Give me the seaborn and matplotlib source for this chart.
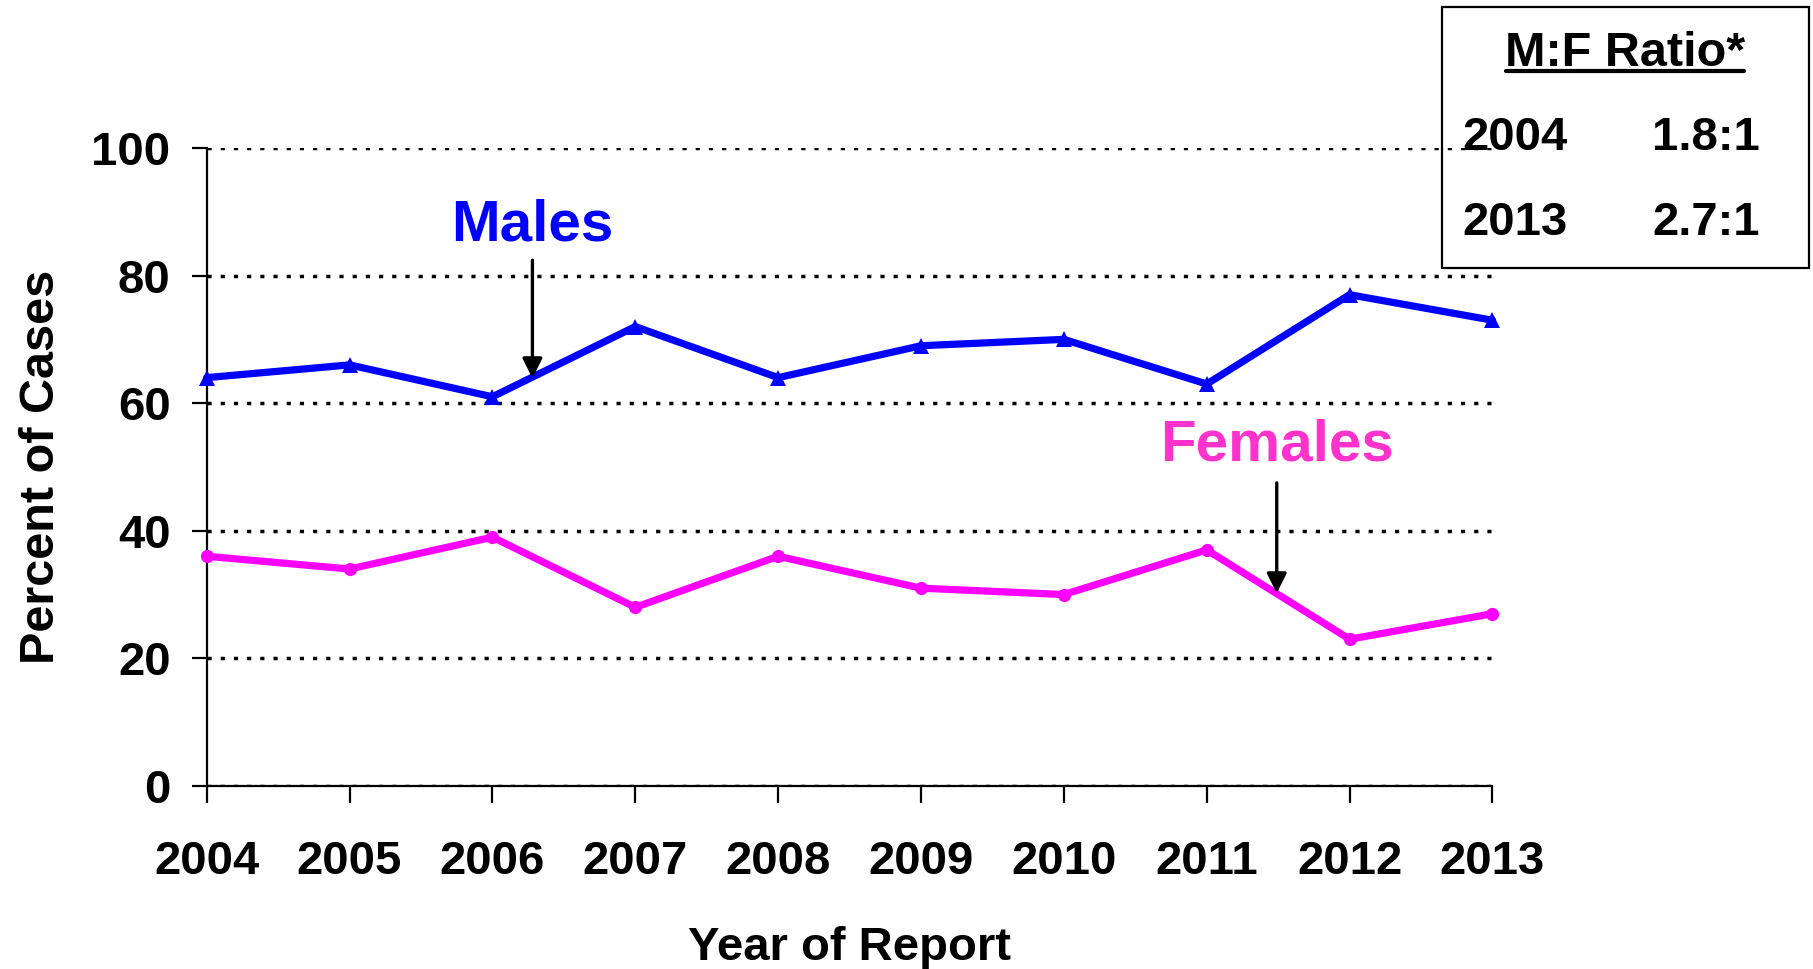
import matplotlib
matplotlib.use("Agg")
import matplotlib.pyplot as plt
import seaborn as sns
import pandas as pd
from matplotlib.patches import Rectangle
from matplotlib.lines import Line2D

years = [2004, 2005, 2006, 2007, 2008, 2009, 2010, 2011, 2012, 2013]
males = [64, 66, 61, 72, 64, 69, 70, 63, 77, 73]
females = [36, 34, 39, 28, 36, 31, 30, 37, 23, 27]
y_ticks = [0, 20, 40, 60, 80, 100]
ratio_title = "M:F Ratio*"
ratio_years = ["2004", "2013"]
ratio_values = ["1.8:1", "2.7:1"]

sns.set_theme(style="white")
plt.rcParams['font.family'] = ['Liberation Sans', 'DejaVu Sans']
plt.rcParams['font.weight'] = 'bold'
plt.rcParams['text.color'] = 'black'
plt.rcParams['axes.labelcolor'] = 'black'
plt.rcParams['xtick.color'] = 'black'
plt.rcParams['ytick.color'] = 'black'

df_m = pd.DataFrame({"Year": years, "Percent": males})
df_f = pd.DataFrame({"Year": years, "Percent": females})

fig = plt.figure(figsize=(18.13, 9.69), dpi=100)
ax = fig.add_axes([0.114, 0.1889, 0.7092, 0.6584])

sns.lineplot(data=df_m, x="Year", y="Percent", ax=ax, color="#0000FF", lw=5.2,
             marker="^", markersize=11, markeredgewidth=0, clip_on=False, zorder=5)
sns.lineplot(data=df_f, x="Year", y="Percent", ax=ax, color="#FF00FF", lw=5.2,
             marker="o", markersize=9.5, markeredgewidth=0, clip_on=False, zorder=5)

ax.set_xlim(years[0], years[-1])
ax.set_ylim(0, 100)
ax.set_xticks(years)
ax.set_yticks(y_ticks)
ax.set_xticklabels([str(y) for y in years], fontsize=34, fontweight='bold', color='black')
ax.set_yticklabels([str(v) for v in y_ticks], fontsize=34, fontweight='bold', color='black')

for s in ["top", "right"]:
    ax.spines[s].set_visible(False)
for s in ["left", "bottom"]:
    ax.spines[s].set_color("black")
    ax.spines[s].set_linewidth(1.6)

ax.tick_params(axis='x', direction='out', length=12, width=1.6, color='black', pad=27, bottom=True)
ax.tick_params(axis='y', direction='out', length=11, width=1.6, color='black', pad=15, left=True)

ax.yaxis.grid(True, color='black', linestyle=(0, (1.2, 2.6)), linewidth=2.5)
ax.xaxis.grid(False)
ax.set_axisbelow(True)

ax.set_xlabel("Year of Report", fontsize=34, fontweight='bold', labelpad=30, color='black')
ax.set_ylabel("Percent of Cases", fontsize=35, fontweight='bold', labelpad=20, color='black')

# annotations
ax.text(2006.28, 87.8, "Males", color="#0000FF", fontsize=42, fontweight='bold',
        ha='center', va='center')
ax.annotate("", xy=(2006.28, 63.9), xytext=(2006.28, 82.4),
            arrowprops=dict(arrowstyle='-|>', color='black', lw=2.4, mutation_scale=30,
                            shrinkA=0, shrinkB=0), zorder=6)
ax.text(2011.49, 53.4, "Females", color="#FF33CC", fontsize=42, fontweight='bold',
        ha='center', va='center')
ax.annotate("", xy=(2011.49, 30.2), xytext=(2011.49, 47.5),
            arrowprops=dict(arrowstyle='-|>', color='black', lw=2.4, mutation_scale=30,
                            shrinkA=0, shrinkB=0), zorder=6)

# ratio box
fig.patches.append(Rectangle((0.7954, 0.7234), 0.2024, 0.2694, transform=fig.transFigure,
                             fill=False, edgecolor='black', linewidth=1.6))
fig.text(0.8963, 0.9453, ratio_title, ha='center', va='center', fontsize=35, fontweight='bold',
         color='black')
fig.add_artist(Line2D([0.8307, 0.9619], [0.9267, 0.9267], transform=fig.transFigure,
                      color='black', linewidth=3))
row_y = [0.8578, 0.7701]
for ry, yr, val in zip(row_y, ratio_years, ratio_values):
    fig.text(0.8064, ry, yr, ha='left', va='center', fontsize=34, fontweight='bold', color='black')
    fig.text(0.9112, ry, val, ha='left', va='center', fontsize=34, fontweight='bold', color='black')

fig.savefig("out.png", dpi=100, facecolor='white')
